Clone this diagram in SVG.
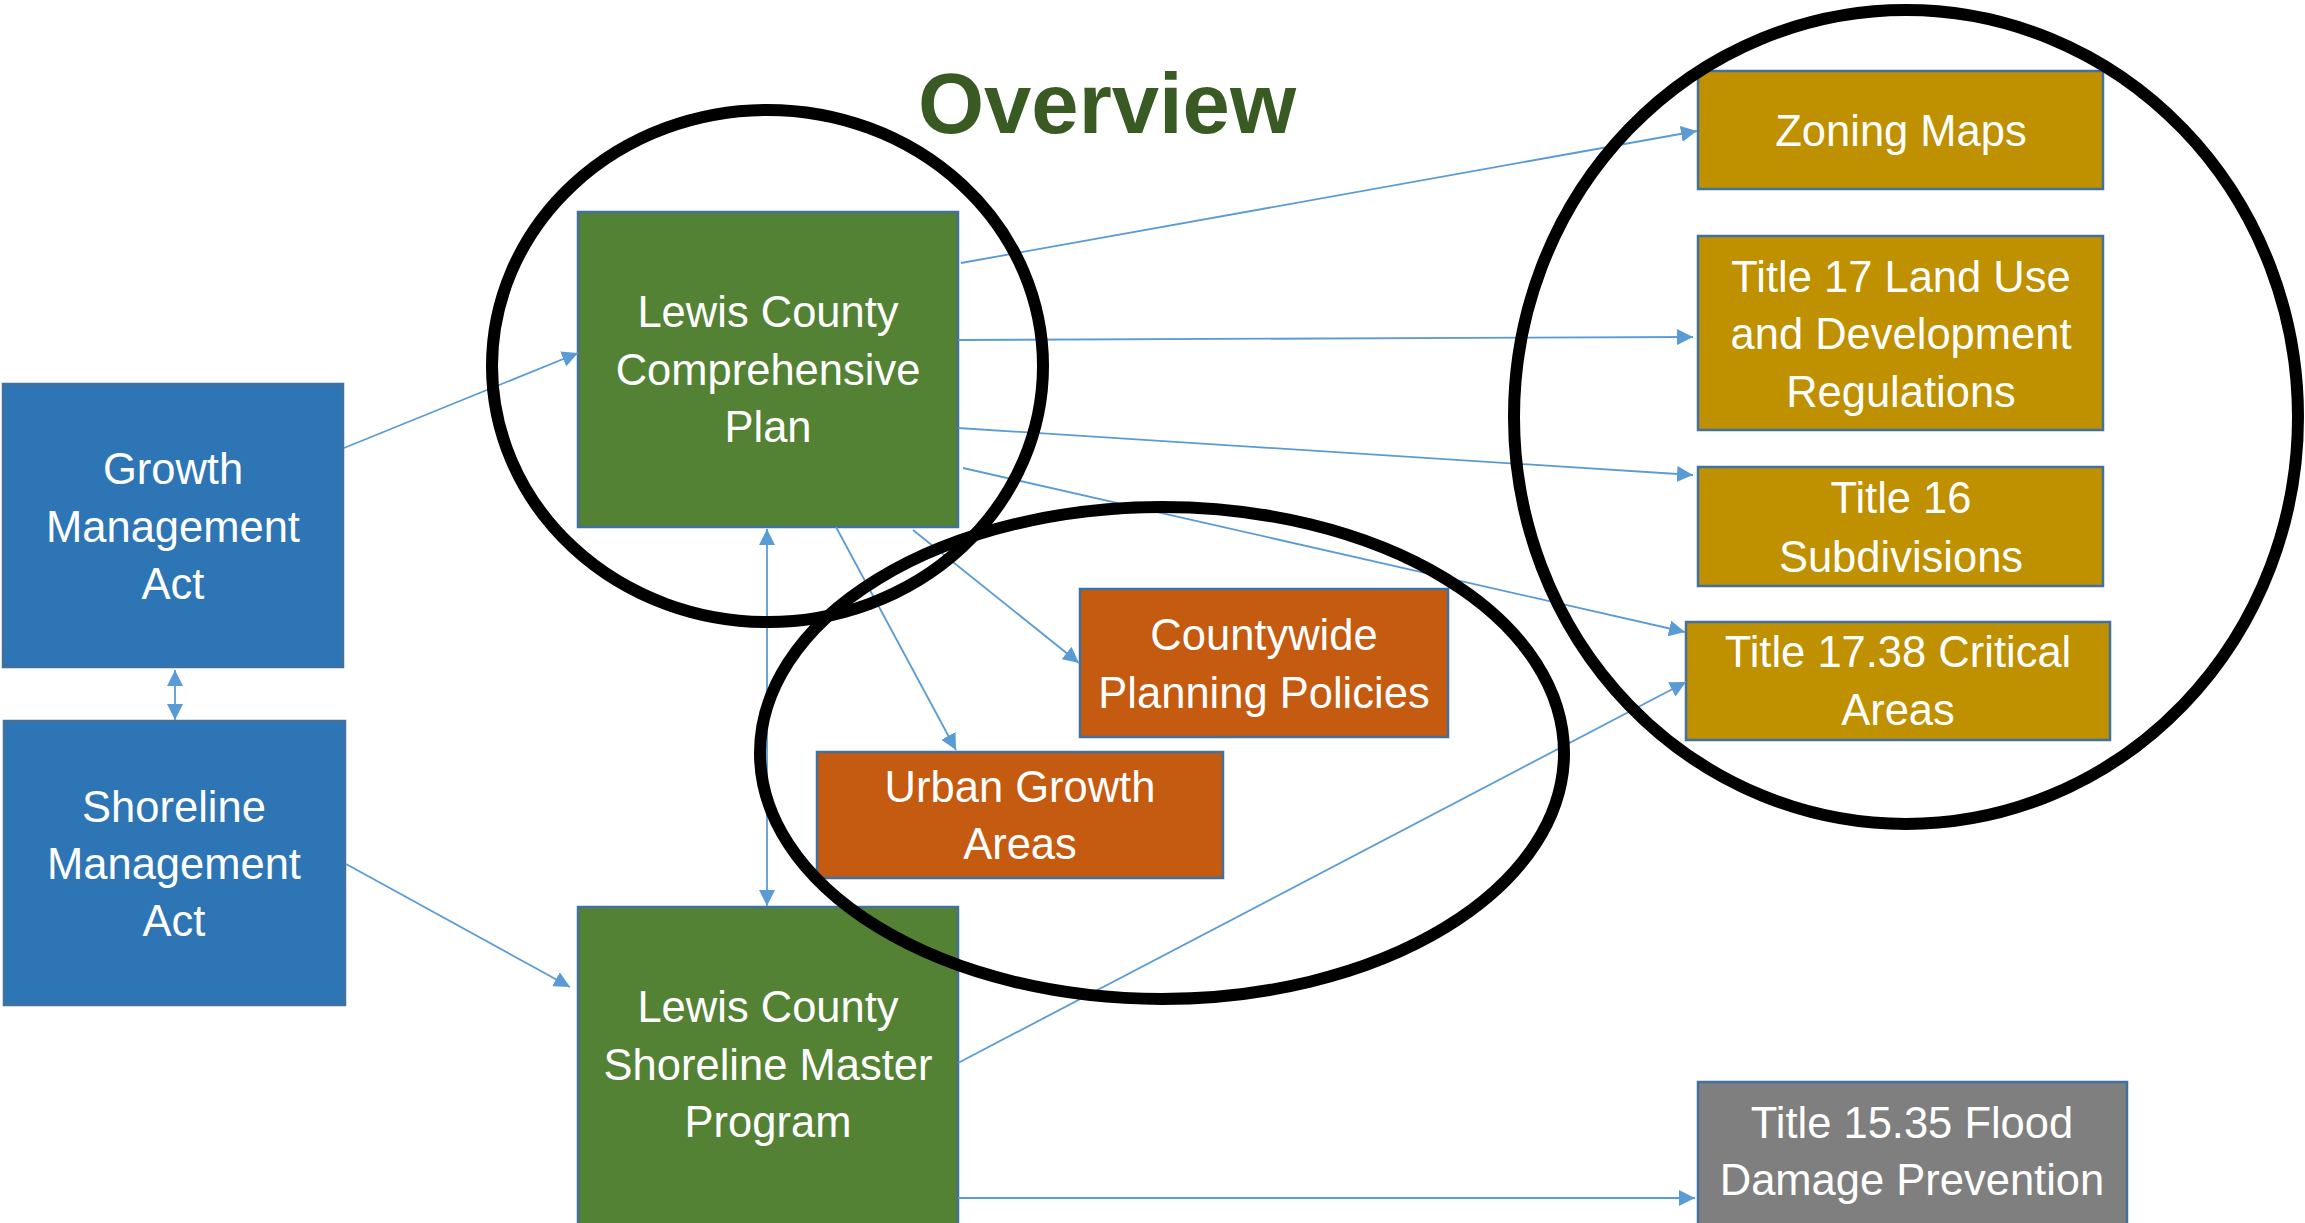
<svg xmlns="http://www.w3.org/2000/svg" width="2305" height="1223" viewBox="0 0 2305 1223">
<defs>
<style>
.box{stroke:#41719C;stroke-width:2.5}
.blue{fill:#2E75B6}.green{fill:#548235}.orange{fill:#C55A11}.gold{fill:#BF9000}.gray{fill:#7F7F7F}
.lbl{font-family:"Liberation Sans",Arial,sans-serif;font-size:43.5px;fill:#FFFFFF;text-anchor:middle}
.title{font-family:"Liberation Sans",Arial,sans-serif;font-size:85px;font-weight:bold;fill:#3A5A24;text-anchor:middle}
.con{stroke:#5B9BD5;stroke-width:1.8;fill:none}
.ring{fill:none;stroke:#000000;stroke-width:12}
</style>
<marker id="ah" markerUnits="userSpaceOnUse" markerWidth="17" markerHeight="16" refX="16" refY="8" orient="auto-start-reverse" viewBox="0 0 17 16">
<path d="M0,0 L16,8 L0,16 z" fill="#5B9BD5"/>
</marker>
</defs>
<rect width="2305" height="1223" fill="#FFFFFF"/>
<text class="title" x="1107" y="133">Overview</text>

<g id="gma"><rect class="box blue" x="3" y="384" width="340" height="283"/>
<text class="lbl" x="173" y="484">Growth</text><text class="lbl" x="173" y="542">Management</text><text class="lbl" x="173" y="599">Act</text></g>

<g id="sma"><rect class="box blue" x="4" y="721" width="341" height="284"/>
<text class="lbl" x="174" y="822">Shoreline</text><text class="lbl" x="174" y="879">Management</text><text class="lbl" x="174" y="936">Act</text></g>

<g id="cp"><rect class="box green" x="578" y="212" width="380" height="315"/>
<text class="lbl" x="768" y="327">Lewis County</text><text class="lbl" x="768" y="385">Comprehensive</text><text class="lbl" x="768" y="442">Plan</text></g>

<g id="smp"><rect class="box green" x="578" y="907" width="380" height="318"/>
<text class="lbl" x="768" y="1022">Lewis County</text><text class="lbl" x="768" y="1080">Shoreline Master</text><text class="lbl" x="768" y="1137">Program</text></g>

<g id="cpp"><rect class="box orange" x="1080" y="589" width="368" height="148"/>
<text class="lbl" x="1264" y="650">Countywide</text><text class="lbl" x="1264" y="708">Planning Policies</text></g>

<g id="uga"><rect class="box orange" x="817" y="752" width="406" height="126"/>
<text class="lbl" x="1020" y="802">Urban Growth</text><text class="lbl" x="1020" y="859">Areas</text></g>

<g id="zoning"><rect class="box gold" x="1698" y="71" width="405" height="118"/>
<text class="lbl" x="1901" y="146">Zoning Maps</text></g>

<g id="t17"><rect class="box gold" x="1698" y="236" width="405" height="194"/>
<text class="lbl" x="1901" y="292">Title 17 Land Use</text><text class="lbl" x="1901" y="349">and Development</text><text class="lbl" x="1901" y="407">Regulations</text></g>

<g id="t16"><rect class="box gold" x="1698" y="467" width="405" height="119"/>
<text class="lbl" x="1901" y="513">Title 16</text><text class="lbl" x="1901" y="572">Subdivisions</text></g>

<g id="t1738"><rect class="box gold" x="1686" y="622" width="424" height="118"/>
<text class="lbl" x="1898" y="667">Title 17.38 Critical</text><text class="lbl" x="1898" y="725">Areas</text></g>

<g id="flood"><rect class="box gray" x="1698" y="1082" width="429" height="143"/>
<text class="lbl" x="1912" y="1138">Title 15.35 Flood</text><text class="lbl" x="1912" y="1195">Damage Prevention</text></g>

<g id="connectors">
<line class="con" x1="175" y1="670" x2="175" y2="720" marker-start="url(#ah)" marker-end="url(#ah)"/>
<line class="con" x1="344" y1="448" x2="578" y2="353" marker-end="url(#ah)"/>
<line class="con" x1="346" y1="864" x2="570" y2="987" marker-end="url(#ah)"/>
<line class="con" x1="767" y1="529" x2="767" y2="906" marker-start="url(#ah)" marker-end="url(#ah)"/>
<line class="con" x1="836" y1="527" x2="956" y2="750" marker-end="url(#ah)"/>
<line class="con" x1="913" y1="530" x2="1079" y2="663" marker-end="url(#ah)"/>
<line class="con" x1="961" y1="263" x2="1697" y2="131" marker-end="url(#ah)"/>
<line class="con" x1="958" y1="340" x2="1693" y2="337" marker-end="url(#ah)"/>
<line class="con" x1="958" y1="428" x2="1693" y2="475" marker-end="url(#ah)"/>
<line class="con" x1="963" y1="468" x2="1685" y2="632" marker-end="url(#ah)"/>
<line class="con" x1="958" y1="1063" x2="1686" y2="682" marker-end="url(#ah)"/>
<line class="con" x1="958" y1="1198" x2="1695" y2="1198" marker-end="url(#ah)"/>
</g>

<g id="rings">
<ellipse class="ring" cx="767.5" cy="366" rx="275.5" ry="256"/>
<ellipse class="ring" cx="1162" cy="753" rx="402" ry="246"/>
<ellipse class="ring" cx="1906" cy="417" rx="392" ry="407"/>
</g>
</svg>
